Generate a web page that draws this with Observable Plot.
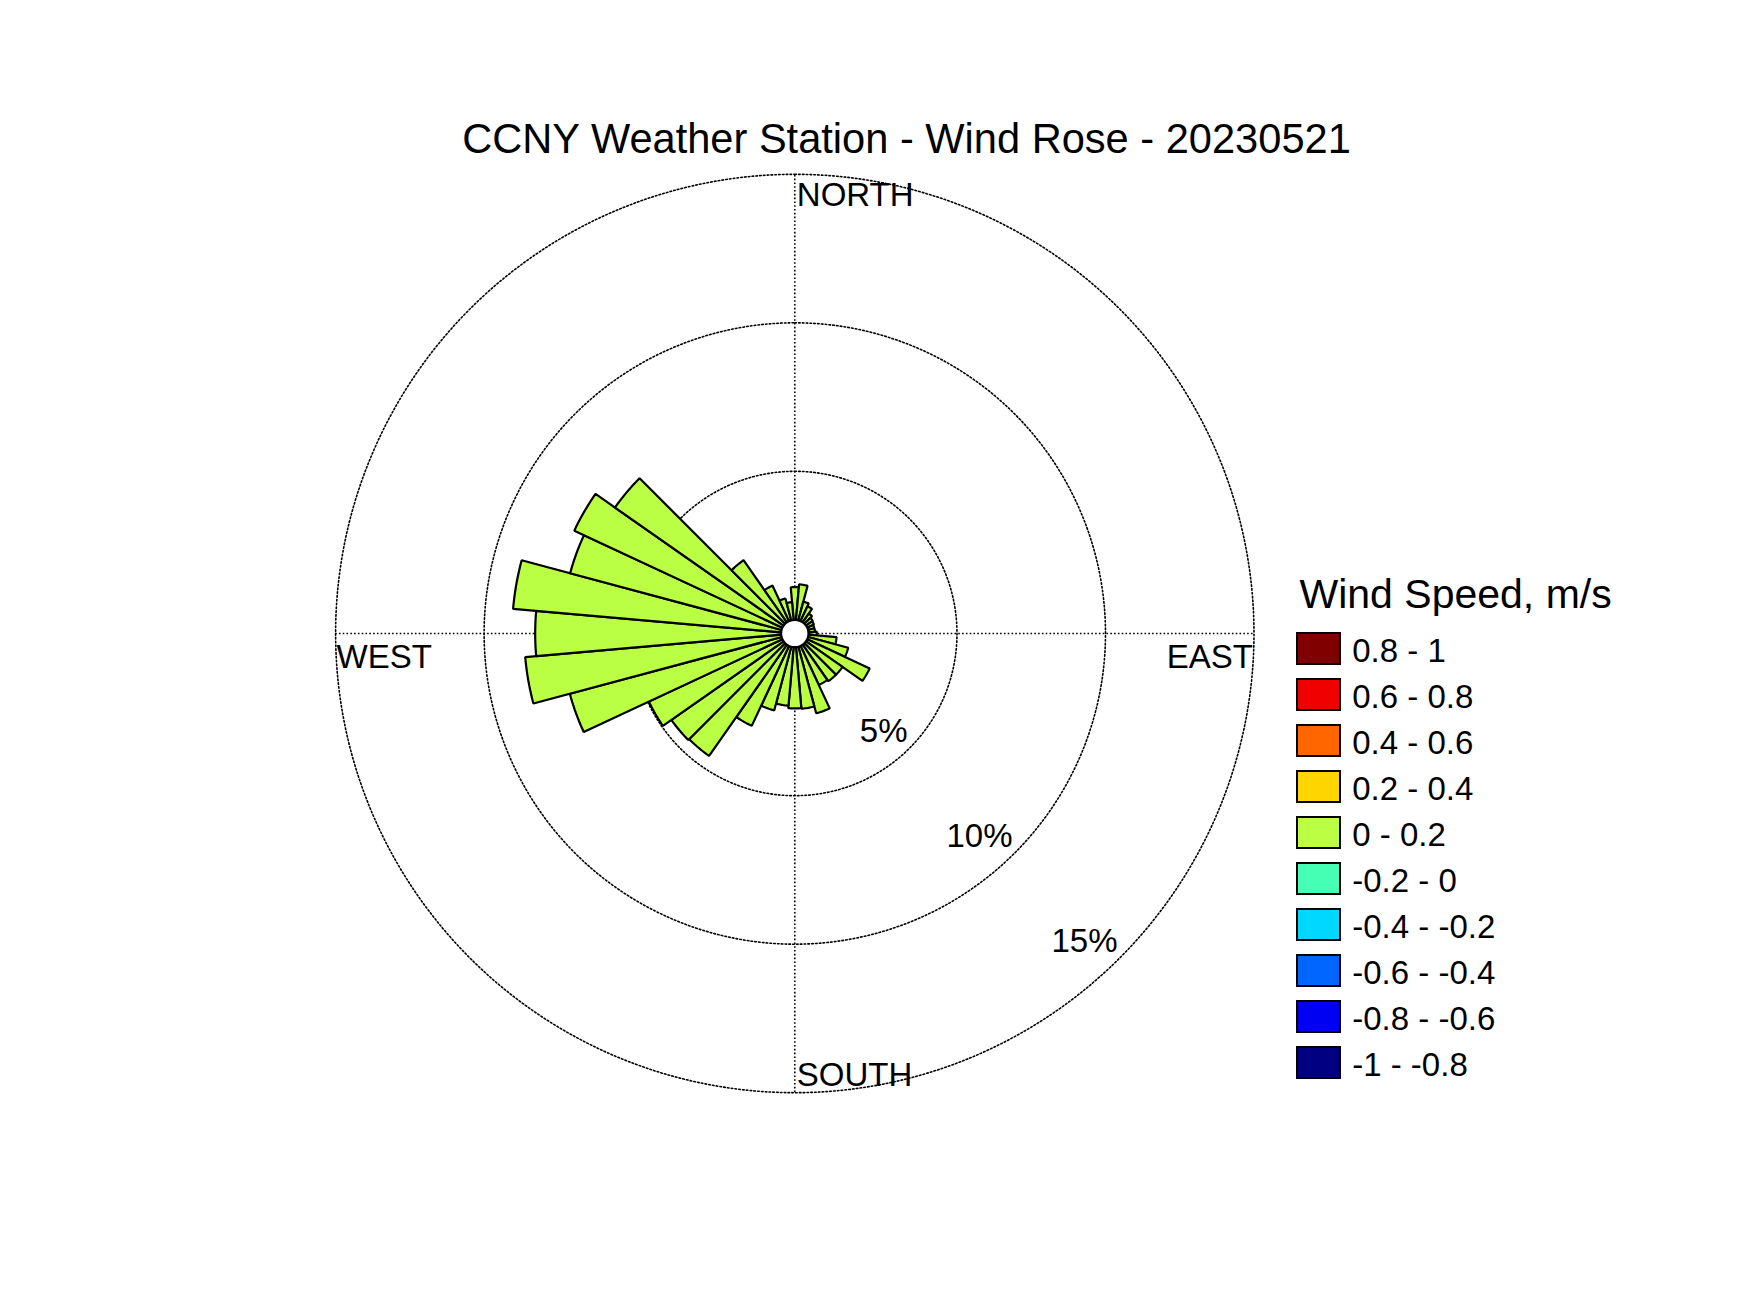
<!DOCTYPE html>
<html><head><meta charset="utf-8">
<script src="https://cdn.jsdelivr.net/npm/d3@7"></script>
<script src="https://cdn.jsdelivr.net/npm/@observablehq/plot@0.6"></script>
<style>
html,body{margin:0;padding:0;background:#fff;}
#chart{position:relative;width:1750px;height:1313px;overflow:hidden;background:#fff;}
#chart > svg{position:absolute;}
</style></head><body><div id="chart"></div>
<script>
// ---------- data ----------
const title = "CCNY Weather Station - Wind Rose - 20230521";
const directions = [0,10,20,30,40,50,60,70,80,90,100,110,120,130,140,150,160,170,
                    180,190,200,210,220,230,240,250,260,270,280,290,300,310,320,330,340,350];
const frequencies = [1.10,1.20,0.65,0.55,0.36,0.28,0.25,0.22,0.22,0.28,0.95,1.40,2.32,1.50,1.50,1.45,2.32,2.08,
                     2.06,1.98,2.22,2.97,4.57,4.61,4.96,7.38,8.65,8.28,9.06,7.37,7.73,6.93,2.55,1.32,0.76,0.60];
const ringTicks = [5, 10, 15];
const ringLabels = ["5%", "10%", "15%"];
const compassLabels = ["NORTH", "EAST", "SOUTH", "WEST"];
const legendTitle = "Wind Speed, m/s";
const speedBins = ["0.8 - 1","0.6 - 0.8","0.4 - 0.6","0.2 - 0.4","0 - 0.2",
                   "-0.2 - 0","-0.4 - -0.2","-0.6 - -0.4","-0.8 - -0.6","-1 - -0.8"];
const speedColors = ["#800000","#F00000","#FF6600","#FFD500","#BBFF44",
                     "#44FFB4","#00D8FF","#0066FF","#0000F2","#000080"];
const barBin = "0 - 0.2";

// ---------- geometry ----------
const cx = 794.3, cy = 633, k = 29.7;      // centre (px), px per percent
const hole = 13.7 / k;                      // inner hole radius in percent units
const rad = p => hole + p;
const D = 20;
const toXY = (b, R) => [R * Math.sin(b * Math.PI / 180), R * Math.cos(b * Math.PI / 180)];
const font = "'Liberation Sans', Arial, Helvetica, sans-serif";

const barPts = [];
directions.forEach((d, i) => {
  const R = rad(frequencies[i]);
  for (let j = 0; j <= 10; j++) { const [x, y] = toXY(d - 5 + j, R); barPts.push({dir: d, x, y, bin: barBin}); }
  for (let j = 10; j >= 0; j--) { const [x, y] = toXY(d - 5 + j, hole); barPts.push({dir: d, x, y, bin: barBin}); }
});
const ringPts = [];
ringTicks.forEach(t => {
  for (let a = 0; a < 360; a += 1) { const [x, y] = toXY(a, rad(t)); ringPts.push({t, x, y}); }
});
const Rmax = rad(ringTicks[ringTicks.length - 1]);
const dotted = {stroke: "black", strokeWidth: 1.6, strokeDasharray: "1.6,2.2"};
const s135 = Math.sin(135 * Math.PI / 180), c135 = Math.cos(135 * Math.PI / 180);

const main = Plot.plot({
  width: 1750, height: 1313, margin: 0,
  style: {fontFamily: font, background: "white", overflow: "visible"},
  x: {domain: [-D, D], range: [cx - D * k, cx + D * k], axis: null},
  y: {domain: [-D, D], range: [cy + D * k, cy - D * k], axis: null},
  color: {domain: speedBins, range: speedColors},
  marks: [
    Plot.line(ringPts, {x: "x", y: "y", z: "t", curve: "linear-closed", fill: "none", ...dotted}),
    Plot.ruleX([0], {y1: -Rmax, y2: Rmax, ...dotted}),
    Plot.ruleY([0], {x1: -Rmax, x2: Rmax, ...dotted}),
    Plot.line(barPts, {x: "x", y: "y", z: "dir", fill: "bin", stroke: "black", strokeWidth: 2.2,
                       curve: "linear-closed", strokeLinejoin: "miter"}),
    Plot.dot([0], {x: 0, y: 0, r: hole * k, fill: "white", stroke: "black", strokeWidth: 2.2}),
    Plot.text([compassLabels[0]], {x: 0, y: Rmax, textAnchor: "start", lineAnchor: "top", dx: 2, dy: 8, fontSize: 33}),
    Plot.text([compassLabels[2]], {x: 0, y: -Rmax, textAnchor: "start", lineAnchor: "bottom", dx: 2, dy: -7, fontSize: 33}),
    Plot.text([compassLabels[3]], {x: -Rmax, y: 0, textAnchor: "start", lineAnchor: "top", dx: 1, dy: 11, fontSize: 33}),
    Plot.text([compassLabels[1]], {x: Rmax, y: 0, textAnchor: "end", lineAnchor: "top", dx: -1, dy: 11, fontSize: 33}),
    Plot.text(ringTicks, {x: t => rad(t) * s135, y: t => rad(t) * c135, text: (t, i) => ringLabels[i],
                          textAnchor: "end", lineAnchor: "bottom", dx: -2, dy: -6, fontSize: 33}),
    Plot.text([title], {frameAnchor: "top-left", dx: 906, dy: 152.7, textAnchor: "middle", lineAnchor: "bottom", fontSize: 41.6})
  ]
});
main.style.left = "0px"; main.style.top = "0px";
document.getElementById("chart").appendChild(main);

const legend = Plot.plot({
  width: 470, height: 540, margin: 0,
  style: {fontFamily: font, background: "transparent", overflow: "visible"},
  x: {domain: ["swatch"], range: [17, 60], padding: 0, axis: null},
  y: {domain: speedBins, range: [72.5, 518.7], paddingInner: 0.32, paddingOuter: 0, axis: null},
  color: {domain: speedBins, range: speedColors},
  marks: [
    Plot.cell(speedBins, {x: () => "swatch", y: d => d, fill: d => d, stroke: "black", strokeWidth: 2}),
    Plot.text(speedBins, {x: () => "swatch", y: d => d, text: d => d, textAnchor: "start", lineAnchor: "bottom",
                          dx: 33.2, dy: 13, fontSize: 33}),
    Plot.text([legendTitle], {frameAnchor: "top-left", dx: 19, dy: 47.3, textAnchor: "start", lineAnchor: "bottom", fontSize: 41})
  ]
});
legend.style.left = "1280px"; legend.style.top = "560px";
document.getElementById("chart").appendChild(legend);
</script></body></html>
